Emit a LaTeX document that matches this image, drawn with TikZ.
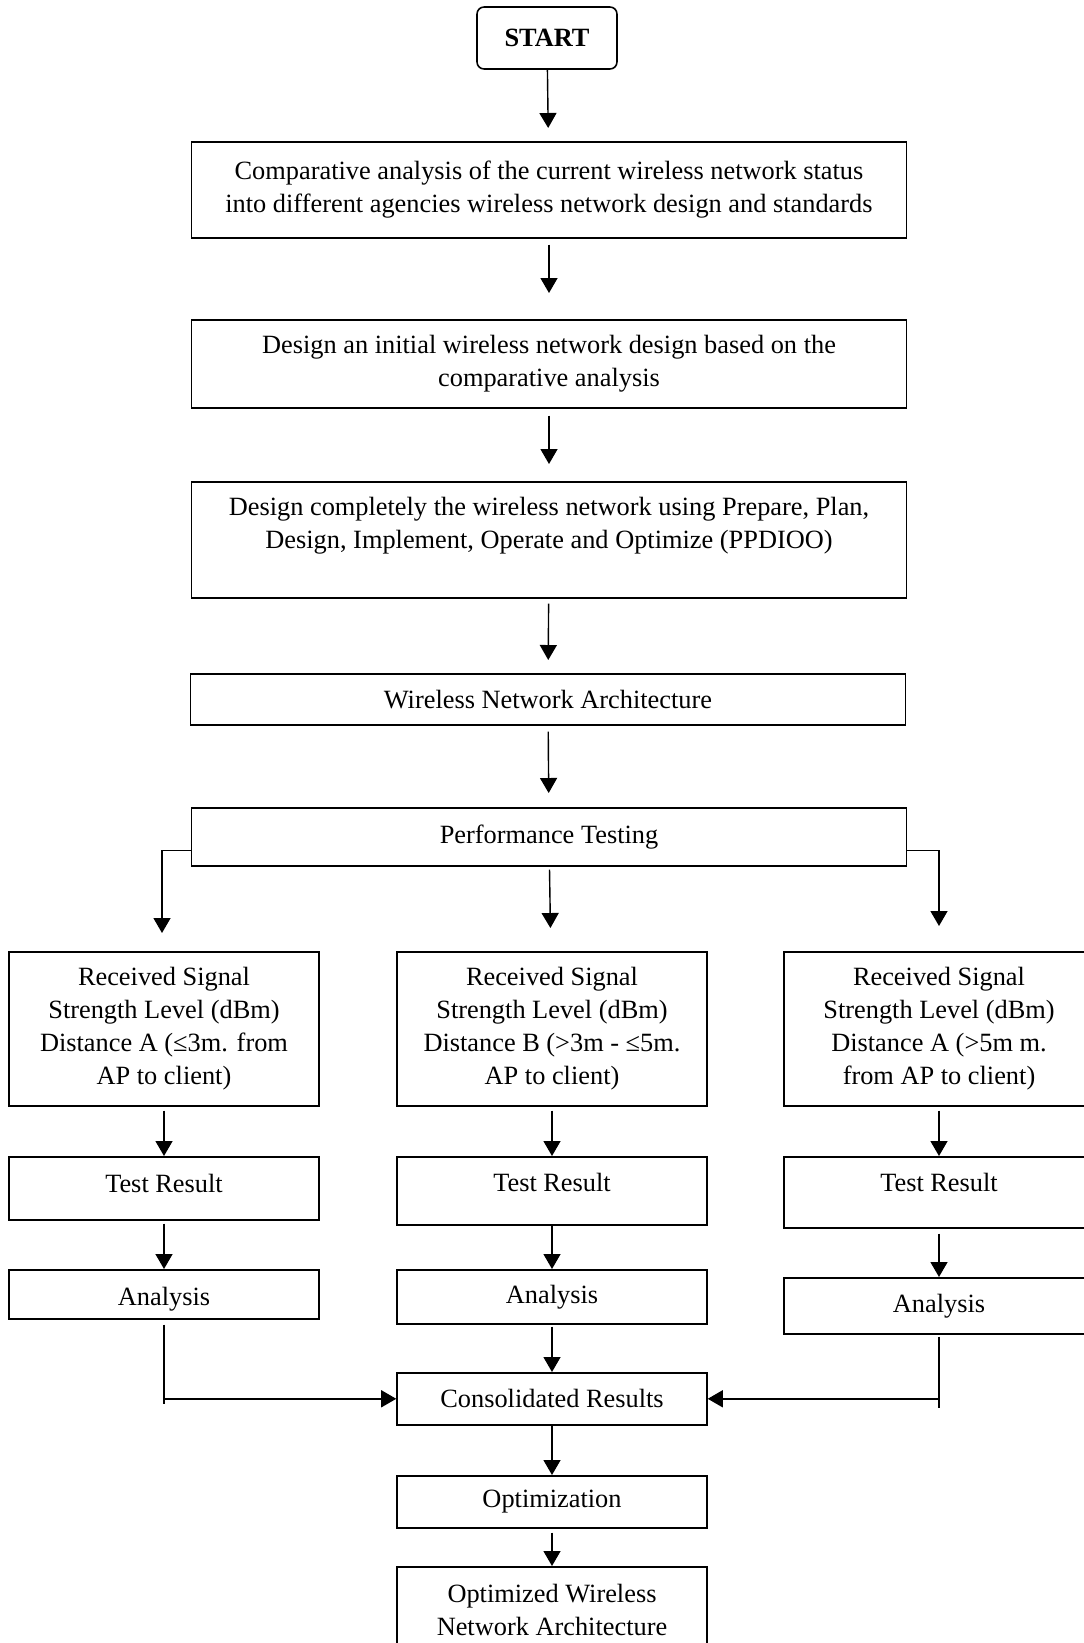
\documentclass[tikz,border=0pt]{standalone}
\usepackage{fontspec}
\setmainfont{Liberation Serif}
\usepackage{tikz}
\usetikzlibrary{arrows.meta}
\usetikzlibrary{calc}

\begin{document}
\begin{tikzpicture}[
  x=0.02cm, y=-0.02cm,
  every node/.style={align=center, font=\fontsize{15}{18.8}\selectfont},
  box/.style={draw, line width=0.9pt, inner sep=2pt, anchor=north},
  wide/.style={box, minimum width=14.3cm},
  col/.style={box, minimum width=6.2cm},
  arrow/.style={line width=0.8pt, -{Triangle[length=0.3cm, width=0.34cm]}},
  link/.style={line width=0.8pt}
]
\useasboundingbox (0,0) rectangle (1084,1643);
\node[draw, line width=0.9pt, rounded corners=4pt, minimum width=2.8cm, minimum height=1.24cm, font=\fontsize{15}{18.8}\selectfont\bfseries] (start) at (547,38) {START};
\node[wide, minimum height=1.92cm] (comp) at (549,141) {Comparative analysis of the current wireless network status\\into different agencies wireless network design and standards};
\node[wide, minimum height=1.76cm] (init) at (549,319) {Design an initial wireless network design based on the\\comparative analysis};
\node[wide, minimum height=2.32cm] (ppdioo) at (549,481) {Design completely the wireless network using Prepare, Plan,\\Design, Implement, Operate and Optimize (PPDIOO)\\\mbox{}};
\node[wide, minimum height=1.02cm] (arch) at (548,673) {Wireless Network Architecture};
\node[wide, minimum height=1.16cm] (perf) at (549,807) {Performance Testing};

\node[col, minimum height=3.08cm] (rssA) at (164,951) {Received Signal\\Strength Level (dBm)\\Distance A (≤3m. from\\AP to client)};
\node[col, minimum height=3.08cm] (rssB) at (552,951) {Received Signal\\Strength Level (dBm)\\Distance B (>3m - ≤5m.\\AP to client)};
\node[col, minimum height=3.08cm] (rssC) at (939,951) {Received Signal\\Strength Level (dBm)\\Distance A (>5m m.\\from AP to client)};
\node[col, minimum height=1.26cm, text depth=0.2cm] (testA) at (164,1156) {Test Result};
\node[col, minimum height=1.36cm, text depth=0.32cm] (testB) at (552,1156) {Test Result};
\node[col, minimum height=1.42cm, text depth=0.38cm] (testC) at (939,1156) {Test Result};
\node[col, minimum height=0.98cm, text height=0.57cm] (anA) at (164,1269) {Analysis};
\node[col, minimum height=1.08cm] (anB) at (552,1269) {Analysis};
\node[col, minimum height=1.12cm] (anC) at (939,1277) {Analysis};
\node[col, minimum height=1.04cm] (cons) at (552,1372) {Consolidated Results};
\node[col, minimum height=1.04cm] (opt) at (552,1475) {Optimization};
\node[col, minimum height=1.72cm] (final) at (552,1566) {Optimized Wireless\\Network Architecture};

\coordinate (tipA) at (162,933);
\coordinate (tipC) at (939,926);
\coordinate (endA) at (164,1404);
\coordinate (endC) at (939,1408);

\draw[arrow, shorten >=0.26cm] (start) -- (comp);
\draw[arrow, shorten <=0.12cm, shorten >=0.52cm] (comp) -- (init);
\draw[arrow, shorten <=0.14cm, shorten >=0.34cm] (init) -- (ppdioo);
\draw[arrow, shorten <=0.1cm, shorten >=0.26cm] (ppdioo) -- (arch);
\draw[arrow, shorten <=0.12cm, shorten >=0.28cm] (arch) -- (perf);
\draw[arrow, shorten <=0.06cm, shorten >=0.46cm] (perf) -- (rssB);
\draw[arrow] ($(perf.west)+(0,14)$) -| (tipA);
\draw[arrow] ($(perf.east)+(0,14)$) -| (tipC);

\draw[arrow, shorten <=0.08cm] (rssA) -- (testA);
\draw[arrow, shorten <=0.08cm] (rssB) -- (testB);
\draw[arrow, shorten <=0.08cm] (rssC) -- (testC);
\draw[arrow, shorten <=0.06cm] (testA) -- (anA);
\draw[arrow] (testB) -- (anB);
\draw[arrow, shorten <=0.1cm] (testC) -- (anC);

\draw[link] ($(anA.south)+(0,5)$) -- (endA);
\draw[arrow] (anA.south |- cons.west) -- (cons.west);
\draw[link] ($(anC.south)+(0,2)$) -- (endC);
\draw[arrow] (anC.south |- cons.east) -- (cons.east);
\draw[arrow, shorten <=0.04cm] (anB) -- (cons);
\draw[arrow] (cons) -- (opt);
\draw[arrow, shorten <=0.08cm] (opt) -- (final);
\end{tikzpicture}
\end{document}
